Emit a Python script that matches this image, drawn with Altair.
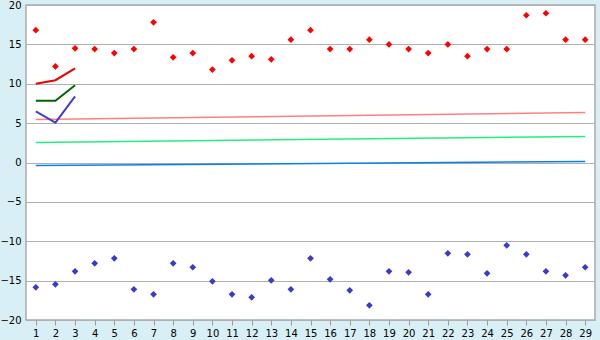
import altair as alt
import pandas as pd

days = list(range(1, 30))
high_pts = [16.8, 12.2, 14.5, 14.4, 13.9, 14.4, 17.8, 13.35, 13.9, 11.8,
            12.97, 13.5, 13.1, 15.6, 16.8, 14.4, 14.4, 15.6, 15.0, 14.4,
            13.9, 15.0, 13.5, 14.4, 14.4, 18.7, 18.95, 15.6, 15.6]
low_pts = [-15.85, -15.47, -13.82, -12.8, -12.17, -16.1, -16.74, -12.8, -13.3, -15.09,
           -16.74, -17.12, -14.96, -16.1, -12.17, -14.83, -16.23, -18.13, -13.82, -13.94,
           -16.74, -11.53, -11.66, -14.07, -10.52, -11.66, -13.82, -14.33, -13.3]

short_days = [1, 2, 3]
red_line = [10.0, 10.45, 11.95]
green_line = [7.85, 7.85, 9.8]
blue_line = [6.5, 5.06, 8.4]

trend_names = ["pink", "lightgreen", "lightblue"]
trend_x = [1, 29]
trend_start = [5.46, 2.54, -0.38]
trend_end = [6.35, 3.3, 0.13]

y_ticks = list(range(-20, 25, 5))

x_scale = alt.Scale(domain=[0.5, 29.5], nice=False, zero=False)
y_scale = alt.Scale(domain=[-20, 20], nice=False)

x_axis = alt.Axis(values=days, title=None, grid=False, domain=False, tickColor="#999999",
                  tickSize=5, labelPadding=3, labelFont="DejaVu Sans", labelFontSize=10,
                  labelColor="#000000", labelFlush=False, labelOverlap=False)
y_axis = alt.Axis(values=y_ticks, title=None, grid=True, gridColor="#b0b0b0",
                  domain=False, ticks=False, labelPadding=5, labelFont="DejaVu Sans",
                  labelFontSize=10, labelColor="#000000", labelOverlap=False,
                  labelFlush=False)

X = alt.X("day:Q", scale=x_scale, axis=x_axis)
Y = alt.Y("v:Q", scale=y_scale, axis=y_axis)

pts = pd.DataFrame({"day": days + days,
                    "v": high_pts + low_pts,
                    "s": ["high"] * len(days) + ["low"] * len(days)})

points = alt.Chart(pts).mark_point(shape="diamond", filled=True, size=45, opacity=1).encode(
    x=X, y=Y,
    color=alt.Color("s:N", scale=alt.Scale(domain=["high", "low"], range=["#ff0000", "#3a3acc"]),
                    legend=None),
)

short = pd.DataFrame({"day": short_days * 3,
                      "v": red_line + green_line + blue_line,
                      "s": ["r"] * 3 + ["g"] * 3 + ["b"] * 3})
short_lines = alt.Chart(short).mark_line(strokeWidth=2).encode(
    x=X, y=Y,
    color=alt.Color("s:N", scale=alt.Scale(domain=["r", "g", "b"],
                                           range=["#ee0000", "#006400", "#4040cc"]),
                    legend=None),
    detail="s:N",
)

rows = []
for n, a, b in zip(trend_names, trend_start, trend_end):
    rows.append({"day": trend_x[0], "v": a, "s": n})
    rows.append({"day": trend_x[1], "v": b, "s": n})
trend = pd.DataFrame(rows)
trend_lines = alt.Chart(trend).mark_line(strokeWidth=1.5).encode(
    x=X, y=Y,
    color=alt.Color("s:N", scale=alt.Scale(domain=trend_names,
                                           range=["#ff8080", "#20f080", "#0a7eea"]),
                    legend=None),
    detail="s:N",
)

chart = alt.layer(trend_lines, short_lines, points).resolve_scale(color="independent").properties(
    width=569, height=315,
    autosize=alt.AutoSizeParams(type="none"),
    padding={"left": 26, "top": 5, "right": 5, "bottom": 20},
    background="#d9eff6",
).configure_view(fill="#ffffff", stroke="#aaaaaa", strokeWidth=1.5)

chart.save("out.html", embed_options={"renderer": "svg", "actions": False})
